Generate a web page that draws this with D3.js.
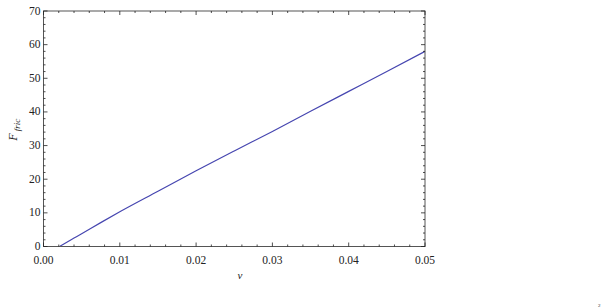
<!DOCTYPE html>
<html>
<head>
<meta charset="utf-8">
<script src="https://cdn.jsdelivr.net/npm/d3@7"></script>
<style>
  body { margin: 0; background: #fff; }
  svg { display: block; }
</style>
</head>
<body>
<div id="chart"></div>
<script>
// velocity samples and friction force
var vValues = [0.0021, 0.003, 0.004, 0.005, 0.0075, 0.01, 0.015, 0.02, 0.025, 0.03, 0.035, 0.04, 0.045, 0.05];
var fValues = [0, 1.2, 2.5, 3.8, 7.1, 10.3, 16.4, 22.5, 28.4, 34.2, 40.2, 46.1, 52.0, 58.0];
var xTicks = [0, 0.01, 0.02, 0.03, 0.04, 0.05];
var yTicks = [0, 10, 20, 30, 40, 50, 60, 70];

var width = 609, height = 308;
var margin = {left: 43.5, top: 11, right: 609 - 425, bottom: 308 - 246.5};
var serif = '"Liberation Serif", "Times New Roman", "DejaVu Serif", serif';

var svg = d3.select('#chart').append('svg')
  .attr('width', width)
  .attr('height', height)
  .attr('font-family', serif)
  .style('font-family', serif);

var x = d3.scaleLinear().domain([0, 0.05]).range([margin.left, width - margin.right]);
var y = d3.scaleLinear().domain([0, 70]).range([height - margin.bottom, margin.top]);

//次刻度
var xMinor = d3.range(0, 0.05001, 0.002);
var yMinor = d3.range(0, 70.01, 2);

var frameColor = '#555';

// 曲线
var pts = vValues.map(function(v, i) { return [v, fValues[i]]; });
svg.append('path')
  .datum(pts)
  .attr('d', d3.line()
    .x(function(d) { return x(d[0]); })
    .y(function(d) { return y(d[1]); })
    .curve(d3.curveMonotoneX))
  .style('fill', 'none')
  .style('stroke', '#4646b0')
  .style('stroke-width', 1.2);

// 边框
svg.append('rect')
  .attr('x', x(0)).attr('y', y(70))
  .attr('width', x(0.05) - x(0)).attr('height', y(0) - y(70))
  .style('fill', 'none')
  .style('stroke', frameColor)
  .style('stroke-width', 1);

// 坐标轴 (刻度朝内)
function tickLen(isMajor) { return isMajor ? 4 : 2; }

var g = svg.append('g').style('stroke', '#222').style('stroke-width', 0.8);
xMinor.forEach(function(v, i) {
  var major = i % 5 === 0;
  var px = x(v), l = tickLen(major);
  g.append('line').attr('x1', px).attr('x2', px).attr('y1', y(0)).attr('y2', y(0) - l);
  g.append('line').attr('x1', px).attr('x2', px).attr('y1', y(70)).attr('y2', y(70) + l);
});
yMinor.forEach(function(v, i) {
  var major = i % 5 === 0;
  var py = y(v), l = tickLen(major);
  g.append('line').attr('x1', x(0)).attr('x2', x(0) + l).attr('y1', py).attr('y2', py);
  g.append('line').attr('x1', x(0.05)).attr('x2', x(0.05) - l).attr('y1', py).attr('y2', py);
});

svg.selectAll('.xlab')
  .data(xTicks)
  .enter()
  .append('text')
  .attr('x', function(d) { return x(d); })
  .attr('y', y(0) + 17)
  .attr('text-anchor', 'middle')
  .style('font-size', '11.5px')
  .style('fill', '#222')
  .text(function(d) { return d3.format('.2f')(d); });

svg.selectAll('.ylab')
  .data(yTicks)
  .enter()
  .append('text')
  .attr('x', x(0) - 3)
  .attr('y', function(d) { return y(d) + 3.5; })
  .attr('text-anchor', 'end')
  .style('font-size', '11.5px')
  .style('fill', '#222')
  .text(function(d) { return d; });

// 轴标题
svg.append('text')
  .attr('x', 240)
  .attr('y', 279)
  .attr('text-anchor', 'middle')
  .style('font-size', '11px')
  .style('font-style', 'italic')
  .style('fill', '#222')
  .text('v');

var yl = svg.append('text')
  .attr('transform', 'translate(17,' + (y(35) + 1) + ') rotate(-90)')
  .attr('text-anchor', 'middle')
  .style('font-size', '12px')
  .style('font-style', 'italic')
  .style('fill', '#222');
yl.append('tspan').text('F');
yl.append('tspan').attr('dy', 3).style('font-size', '9px').text(' fric');

// 右下角的小字符
svg.append('text')
  .attr('x', 598)
  .attr('y', 307)
  .style('font-size', '5px')
  .style('fill', '#222')
  .text('2');
</script>
</body>
</html>
